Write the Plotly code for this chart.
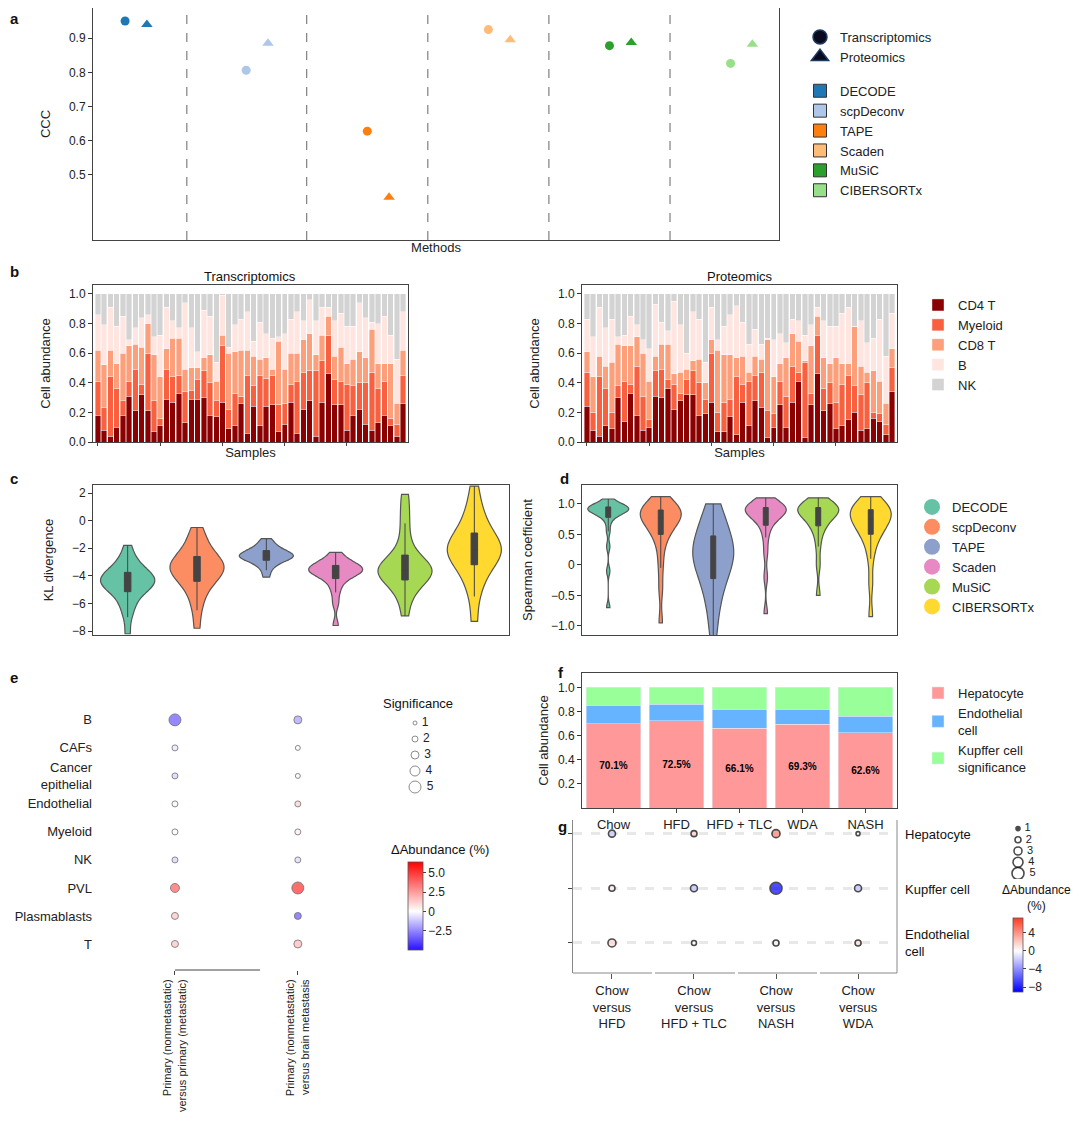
import plotly.graph_objects as go

OFF = 8  # page body margin
W, H = 1080 - OFF, 1129 - OFF
def px(x): return min(1, max(0, (x - OFF) / W))
def py(y): return min(1, max(0, 1 - (y - OFF) / H))
def dx(l, r): return [px(l), px(r)]
def dy(t, b): return [py(b), py(t)]

# ---------- data ----------
methods = ["DECODE", "scpDeconv", "TAPE", "Scaden", "MuSiC", "CIBERSORTx"]
method_colors_a = ["#1f77b4", "#aec7e8", "#ff7f0e", "#ffbb78", "#2ca02c", "#98df8a"]
ccc_trans = [0.950, 0.806, 0.628, 0.925, 0.878, 0.826]
ccc_prot = [0.940, 0.885, 0.435, 0.895, 0.887, 0.882]

cell_types_b = ["CD4 T", "Myeloid", "CD8 T", "B", "NK"]
cell_colors_b = ["#8b0000", "#f9603f", "#fc9f7a", "#fee5e0", "#d3d3d3"]
# cumulative tops per bar (CD4 T, +Myeloid, +CD8 T, +B); NK fills to 1
tr_cd4 = [0.18,0.08,0.04,0.10,0.18,0.31,0.21,0.32,0.21,0.07,0.11,0.29,0.27,0.33,0.13,0.29,0.29,0.30,0.18,0.17,0.27,0.09,0.11,0.26,0.06,0.24,0.11,0.24,0.25,0.07,0.12,0.27,0.06,0.22,0.28,0.04,0.27,0.46,0.25,0.25,0.08,0.18,0.22,0.12,0.08,0.13,0.18,0.11,0.04,0.26]
tr_mye = [0.41,0.23,0.44,0.36,0.28,0.41,0.49,0.39,0.60,0.28,0.16,0.49,0.44,0.45,0.34,0.35,0.42,0.48,0.40,0.28,0.65,0.22,0.33,0.31,0.45,0.38,0.45,0.43,0.45,0.25,0.26,0.39,0.41,0.47,0.48,0.48,0.55,0.72,0.42,0.41,0.39,0.38,0.40,0.40,0.47,0.36,0.41,0.16,0.12,0.45]
tr_cd8 = [0.62,0.52,0.62,0.53,0.60,0.65,0.66,0.64,0.80,0.59,0.44,0.63,0.70,0.70,0.49,0.50,0.50,0.57,0.59,0.41,0.72,0.60,0.61,0.62,0.62,0.58,0.56,0.57,0.49,0.68,0.49,0.60,0.60,0.69,0.73,0.59,0.72,0.85,0.58,0.64,0.53,0.56,0.61,0.57,0.76,0.53,0.53,0.53,0.26,0.62]
tr_b = [0.86,0.79,0.91,0.78,0.85,0.69,0.77,0.84,0.86,0.71,0.72,0.91,0.82,0.77,0.94,0.77,0.61,0.89,0.85,0.54,0.99,0.64,0.79,0.83,0.88,0.68,0.81,0.73,0.70,0.71,0.73,0.83,0.88,0.82,0.96,0.82,0.91,0.91,0.82,0.87,0.78,0.78,0.94,0.84,0.81,0.80,0.85,0.72,0.56,0.88]
pr_cd4 = [0.24,0.08,0.04,0.11,0.09,0.30,0.14,0.33,0.18,0.08,0.10,0.31,0.30,0.36,0.22,0.28,0.32,0.32,0.18,0.19,0.27,0.07,0.07,0.17,0.05,0.27,0.11,0.28,0.23,0.03,0.10,0.25,0.10,0.27,0.41,0.03,0.25,0.46,0.21,0.26,0.09,0.11,0.15,0.20,0.08,0.09,0.16,0.14,0.05,0.34]
pr_mye = [0.47,0.20,0.44,0.36,0.20,0.38,0.41,0.39,0.51,0.31,0.15,0.48,0.49,0.42,0.39,0.33,0.42,0.48,0.40,0.29,0.60,0.20,0.27,0.29,0.44,0.39,0.41,0.45,0.47,0.21,0.19,0.41,0.31,0.51,0.47,0.54,0.33,0.72,0.36,0.40,0.27,0.39,0.45,0.38,0.32,0.40,0.20,0.19,0.12,0.50]
pr_cd8 = [0.61,0.44,0.58,0.51,0.54,0.66,0.65,0.65,0.71,0.60,0.41,0.58,0.66,0.66,0.46,0.47,0.49,0.55,0.56,0.40,0.69,0.62,0.59,0.59,0.57,0.58,0.47,0.58,0.56,0.69,0.44,0.53,0.57,0.73,0.68,0.55,0.65,0.85,0.57,0.53,0.57,0.53,0.53,0.78,0.51,0.47,0.48,0.41,0.26,0.63]
pr_b = [0.83,0.71,0.91,0.77,0.83,0.71,0.72,0.85,0.79,0.69,0.63,0.93,0.81,0.75,0.95,0.79,0.60,0.88,0.83,0.54,0.91,0.69,0.78,0.86,0.92,0.81,0.66,0.76,0.66,0.70,0.69,0.73,0.67,0.83,0.82,0.72,0.79,0.91,0.82,0.78,0.78,0.87,0.91,0.78,0.82,0.67,0.70,0.83,0.58,0.87]

violin_colors = ["#66c2a5", "#fc8d62", "#8da0cb", "#e78ac3", "#a6d854", "#ffd92f"]
kl_values = [
    [-8.2,-7.0,-6.4,-6.0,-5.6,-5.3,-5.1,-5.0,-4.8,-4.7,-4.6,-4.5,-4.4,-4.3,-4.2,-4.1,-4.0,-3.9,-3.8,-3.6,-3.4,-3.2,-2.9,-2.5,-1.8],
    [-7.8,-6.5,-5.8,-5.2,-4.8,-4.5,-4.3,-4.1,-3.9,-3.7,-3.6,-3.5,-3.4,-3.3,-3.1,-3.0,-2.9,-2.7,-2.5,-2.2,-1.9,-1.5,-1.0,-0.5],
    [-4.1,-3.6,-3.3,-3.1,-2.95,-2.85,-2.75,-2.7,-2.65,-2.6,-2.55,-2.5,-2.45,-2.4,-2.3,-2.2,-2.1,-2.0,-1.8,-1.6,-1.3],
    [-7.6,-6.0,-5.2,-4.7,-4.3,-4.1,-3.95,-3.8,-3.7,-3.65,-3.6,-3.55,-3.5,-3.4,-3.3,-3.2,-3.1,-2.9,-2.7,-2.3],
    [-6.9,-5.8,-5.2,-4.8,-4.5,-4.3,-4.1,-3.9,-3.8,-3.7,-3.6,-3.5,-3.4,-3.2,-3.0,-2.8,-2.5,-2.0,-1.2,-0.2,0.8,1.9],
    [-7.3,-5.5,-4.6,-4.0,-3.5,-3.1,-2.9,-2.6,-2.4,-2.2,-2.1,-2.0,-1.8,-1.5,-1.2,-1.0,-0.6,-0.1,0.5,1.2,2.5],
]
sp_values = [
    [-0.7,-0.1,0.3,0.55,0.7,0.78,0.82,0.85,0.87,0.88,0.89,0.9,0.91,0.92,0.93,0.94,0.95,0.96,0.97,0.99,1.02,1.08],
    [-0.95,-0.4,-0.05,0.2,0.4,0.5,0.55,0.62,0.68,0.72,0.76,0.78,0.8,0.83,0.86,0.88,0.9,0.92,0.95,0.98,1.03,1.12],
    [-1.2,-0.85,-0.6,-0.45,-0.3,-0.2,-0.1,0.0,0.08,0.12,0.15,0.2,0.25,0.3,0.38,0.45,0.55,0.65,0.75,0.85,1.0],
    [-0.8,-0.2,0.2,0.45,0.6,0.7,0.75,0.8,0.84,0.86,0.88,0.9,0.91,0.92,0.93,0.95,0.96,0.98,1.02,1.1],
    [-0.5,0.0,0.3,0.5,0.6,0.68,0.72,0.77,0.82,0.85,0.88,0.9,0.91,0.92,0.93,0.95,0.96,0.98,1.02,1.1],
    [-0.85,-0.3,0.1,0.3,0.45,0.52,0.55,0.62,0.68,0.72,0.75,0.78,0.82,0.86,0.88,0.9,0.92,0.95,0.99,1.04,1.12],
]

e_cells = ["B", "CAFs", "Cancer<br>epithelial", "Endothelial", "Myeloid", "NK", "PVL", "Plasmablasts", "T"]
e_comparisons = ["Primary (nonmetastatic)<br>versus primary (metastatic)", "Primary (nonmetastatic)<br>versus brain metastasis"]
e_delta_1 = [-3.5, -0.5, -1.0, 0.3, 0.2, -0.9, 4.0, 1.5, 1.5]
e_sig_1 = [5, 2, 2, 2, 2, 2, 3.5, 2.5, 2.5]
e_delta_2 = [-2.0, 0.2, 0.3, 1.2, 0.5, -0.8, 5.2, -3.5, 1.8]
e_sig_2 = [3, 1.5, 1.5, 2, 2, 2, 5, 2.5, 3]

f_groups = ["Chow", "HFD", "HFD + TLC", "WDA", "NASH"]
f_hep = [0.701, 0.725, 0.661, 0.693, 0.626]
f_endo = [0.150, 0.135, 0.160, 0.125, 0.134]
f_kup = [0.149, 0.140, 0.179, 0.182, 0.240]
f_labels = ["70.1%", "72.5%", "66.1%", "69.3%", "62.6%"]

g_comparisons = ["Chow<br>versus<br>HFD", "Chow<br>versus<br>HFD + TLC", "Chow<br>versus<br>NASH", "Chow<br>versus<br>WDA"]
g_cells = ["Hepatocyte", "Kupffer cell", "Endothelial cell"]
g_delta = {"Hepatocyte": [-2.0, 2.0, 4.5, -0.3], "Kupffer cell": [0.5, -2.5, -9.0, -2.5], "Endothelial cell": [1.5, 0.0, 0.5, 1.5]}
g_sig = {"Hepatocyte": [2.5, 2, 3, 1], "Kupffer cell": [2, 2.5, 5, 2.5], "Endothelial cell": [3, 1.5, 2, 2]}

sig_levels = [1, 2, 3, 4, 5]

def msize(s): return 2 + 2 * s

FONT = "Liberation Sans, Arial, sans-serif"
fig = go.Figure()

# ---------- a ----------
for i, m in enumerate(methods):
    fig.add_trace(go.Scatter(x=[i - 0.09], y=[ccc_trans[i]], mode="markers", showlegend=False,
                             marker=dict(symbol="circle", size=9, color=method_colors_a[i]), xaxis="x", yaxis="y"))
    fig.add_trace(go.Scatter(x=[i + 0.09], y=[ccc_prot[i]], mode="markers", showlegend=False,
                             marker=dict(symbol="triangle-up", size=10, color=method_colors_a[i]), xaxis="x", yaxis="y"))
fig.add_trace(go.Scatter(x=[None], y=[None], mode="markers", name="Transcriptomics", legend="legend", legendgroup="s",
                         marker=dict(symbol="circle", size=14, color="#0a0a1e", line=dict(color="#1f3a5f", width=1.5))))
fig.add_trace(go.Scatter(x=[None], y=[None], mode="markers", name="Proteomics", legend="legend", legendgroup="s",
                         marker=dict(symbol="triangle-up", size=15, color="#0a0a1e", line=dict(color="#1f3a5f", width=1.5))))
for i, m in enumerate(methods):
    fig.add_trace(go.Scatter(x=[None], y=[None], mode="markers", name=m, legend="legend", legendgroup="m",
                             marker=dict(symbol="square", size=13, color=method_colors_a[i], line=dict(color="#333", width=1))))

# ---------- b ----------
def stacks(c1, c2, c3, c4):
    return [c1, [b - a for a, b in zip(c1, c2)], [b - a for a, b in zip(c2, c3)],
            [b - a for a, b in zip(c3, c4)], [1 - a for a in c4]]
for ax, data, show in [("2", stacks(tr_cd4, tr_mye, tr_cd8, tr_b), True), ("3", stacks(pr_cd4, pr_mye, pr_cd8, pr_b), False)]:
    for k, ct in enumerate(cell_types_b):
        fig.add_trace(go.Bar(x=list(range(len(data[k]))), y=data[k], name=ct, marker=dict(color=cell_colors_b[k], line=dict(color="white", width=0.4)),
                             xaxis="x" + ax, yaxis="y" + ax, showlegend=show, legend="legend2"))

# ---------- c, d ----------
for ax, vals in [("4", kl_values), ("5", sp_values)]:
    for i, m in enumerate(methods):
        fig.add_trace(go.Violin(x=[i] * len(vals[i]), y=vals[i], name=m, fillcolor=violin_colors[i], opacity=1,
                                line=dict(color="#555555", width=1.2), width=0.78, points=False, spanmode="hard",
                                box=dict(visible=True, width=0.12, fillcolor="#444444", line=dict(color="#444444", width=1)),
                                meanline=dict(visible=False), xaxis="x" + ax, yaxis="y" + ax, showlegend=False))
fig.update_layout(violinmode="overlay")
for i, m in enumerate(methods):
    fig.add_trace(go.Scatter(x=[None], y=[None], mode="markers", name=m, legend="legend3",
                             marker=dict(symbol="circle", size=17, color=violin_colors[i], line=dict(color="white", width=0))))

# ---------- e ----------
for j, (dv, sv) in enumerate([(e_delta_1, e_sig_1), (e_delta_2, e_sig_2)]):
    fig.add_trace(go.Scatter(x=[j] * len(e_cells), y=list(range(len(e_cells))), mode="markers", showlegend=False,
                             marker=dict(size=[msize(s) for s in sv], color=dv, coloraxis="coloraxis",
                                         line=dict(color="#333", width=0.8)), xaxis="x6", yaxis="y6"))
fig.add_trace(go.Scatter(x=[0] * 5, y=sig_levels, mode="markers+text", text=[" " + str(s) for s in sig_levels], textposition="middle right",
                         textfont=dict(size=12), showlegend=False, hoverinfo="skip",
                         marker=dict(size=[msize(s) for s in sig_levels], color="white", line=dict(color="#333", width=0.8)),
                         xaxis="x9", yaxis="y9"))

# ---------- f ----------
f_colors = ["#ff9999", "#66b3ff", "#99ff99"]
f_names = ["Hepatocyte", "Endothelial<br>cell", "Kupffer cell<br>significance"]
for k, (vals, nm) in enumerate(zip([f_hep, f_endo, f_kup], f_names)):
    fig.add_trace(go.Bar(x=f_groups, y=vals, name=nm, marker=dict(color=f_colors[k]), width=0.87,
                         text=f_labels if k == 0 else None, textposition="inside" if k == 0 else None,
                         insidetextanchor="middle", textfont=dict(size=10, color="black", family=FONT),
                         texttemplate="<b>%{text}</b>" if k == 0 else None,
                         xaxis="x7", yaxis="y7", legend="legend5"))

# ---------- g ----------
for r, c in enumerate(g_cells):
    fig.add_trace(go.Scatter(x=list(range(4)), y=[r] * 4, mode="markers", showlegend=False,
                             marker=dict(size=[msize(s) for s in g_sig[c]], color=g_delta[c], coloraxis="coloraxis2",
                                         line=dict(color="black", width=1.6)), xaxis="x8", yaxis="y8"))
fig.add_trace(go.Scatter(x=[0] * 5, y=sig_levels, mode="markers+text", text=[" " + str(s) for s in sig_levels], textposition="middle right",
                         textfont=dict(size=11), showlegend=False, hoverinfo="skip",
                         marker=dict(size=[msize(s) for s in sig_levels], color=["black", "white", "white", "white", "white"],
                                     line=dict(color="black", width=1.6)),
                         xaxis="x10", yaxis="y10"))

# ---------- layout ----------
tick = dict(ticks="outside", ticklen=4, tickcolor="#333", tickfont=dict(size=12, color="#222"))
box = dict(showline=True, linecolor="#444", linewidth=1, mirror=True, zeroline=False, showgrid=False)
hidden = dict(visible=False, showgrid=False, zeroline=False, fixedrange=True)
lay = dict(
    width=W, height=H, margin=dict(l=0, r=0, t=0, b=0, autoexpand=False), plot_bgcolor="white", paper_bgcolor="white",
    font=dict(family=FONT, size=12, color="#222"), barmode="stack", bargap=0.12,
    xaxis=dict(domain=dx(93, 779), range=[-0.355, 5.31], showticklabels=False, ticks="", **box,
               title=dict(text="Methods", font=dict(size=13), standoff=2)),
    yaxis=dict(domain=dy(8, 240), range=[0.31, 0.988], tickvals=[0.5, 0.6, 0.7, 0.8, 0.9], title=dict(text="CCC", font=dict(size=13)), **box, **tick),
    xaxis2=dict(domain=dx(93, 408), range=[-0.8, 49.8], dtick=10, showticklabels=False, ticks="outside", ticklen=3, **box,
                title=dict(text="Samples", font=dict(size=13), standoff=2), anchor="y2"),
    yaxis2=dict(domain=dy(285, 442), range=[0, 1.06], dtick=0.2, tickformat=".1f", anchor="x2", **box, **tick,
                title=dict(text="Cell abundance", font=dict(size=13))),
    xaxis3=dict(domain=dx(582, 897), range=[-0.8, 49.8], dtick=10, showticklabels=False, ticks="outside", ticklen=3, **box,
                title=dict(text="Samples", font=dict(size=13), standoff=2), anchor="y3"),
    yaxis3=dict(domain=dy(285, 442), range=[0, 1.06], dtick=0.2, tickformat=".1f", anchor="x3", **box, **tick,
                title=dict(text="Cell abundance", font=dict(size=13))),
    xaxis4=dict(domain=dx(93, 509), range=[-0.5, 5.5], showticklabels=False, ticks="", anchor="y4", **box),
    yaxis4=dict(domain=dy(485, 635), range=[-8.29, 2.58], tickvals=[2, 0, -2, -4, -6, -8], ticktext=["2", "0", "−2", "−4", "−6", "−8"],
                anchor="x4", **box, **tick, title=dict(text="KL divergence", font=dict(size=13))),
    xaxis5=dict(domain=dx(582, 897), range=[-0.5, 5.5], showticklabels=False, ticks="", anchor="y5", **box),
    yaxis5=dict(domain=dy(485, 635), range=[-1.15, 1.31], tickvals=[1, 0.5, 0, -0.5, -1], ticktext=["1.0", "0.5", "0", "−0.5", "−1.0"],
                anchor="x5", **box, **tick, title=dict(text="Spearman coefficient", font=dict(size=13))),
    xaxis6=dict(domain=dx(93, 390), range=[-0.667, 1.75], tickvals=[0, 1], ticktext=e_comparisons, tickangle=-90,
                showline=False, showgrid=False, zeroline=False, ticks="outside", ticklen=4, anchor="y6", tickfont=dict(size=11)),
    yaxis6=dict(domain=dy(665, 970), range=[8.93, -1.96], tickvals=list(range(9)), ticktext=e_cells, showline=False,
                showgrid=False, zeroline=False, ticks="", anchor="x6", tickfont=dict(size=13)),
    xaxis7=dict(domain=dx(582, 897), anchor="y7", **box, ticks="outside", ticklen=4, tickfont=dict(size=13)),
    yaxis7=dict(domain=dy(673, 808), range=[0, 1.12], tickformat=".1f", tickvals=[0.2, 0.4, 0.6, 0.8, 1.0], anchor="x7", **box, **tick,
                title=dict(text="Cell abundance", font=dict(size=13), standoff=6)),
    xaxis8=dict(domain=dx(573, 897), range=[-0.475, 3.475], tickvals=[0, 1, 2, 3], ticktext=g_comparisons, showline=False,
                showgrid=False, zeroline=False, ticks="outside", ticklen=5, tickcolor="#555", anchor="y8", tickfont=dict(size=13)),
    yaxis8=dict(domain=dy(820, 973), range=[2.55, -0.25], tickvals=[0, 1, 2], showticklabels=False, showline=True, linecolor="#888",
                ticks="outside", ticklen=4, showgrid=True, gridcolor="#e8e8e8", gridwidth=3, griddash="dash", zeroline=False, anchor="x8"),
    xaxis9=dict(domain=dx(405, 445), range=[-1, 3], anchor="y9", **hidden),
    yaxis9=dict(domain=dy(715, 795), range=[5.5, 0.5], anchor="x9", **hidden),
    xaxis10=dict(domain=dx(1008, 1048), range=[-1, 3], anchor="y10", **hidden),
    yaxis10=dict(domain=dy(823, 879), range=[5.5, 0.5], anchor="x10", **hidden),
    coloraxis=dict(cmin=-5.0, cmax=6.4, colorscale=[[0, "#2a10ff"], [0.44, "#ffffff"], [1, "#ff0000"]],
                   colorbar=dict(x=px(408), xanchor="left", y=py(862), yanchor="top", len=88 / H, lenmode="fraction", thickness=15,
                                 xpad=0, ypad=0,
                                 tickvals=[5, 2.5, 0, -2.5], ticktext=["5.0", "2.5", "0", "−2.5"], outlinewidth=0.8, outlinecolor="#555",
                                 ticks="outside", ticklen=3, tickfont=dict(size=12), title=dict(text=""))),
    coloraxis2=dict(cmin=-9.1, cmax=7.3, colorscale=[[0, "#0000ff"], [0.555, "#ffffff"], [1, "#ff3b1f"]],
                    colorbar=dict(x=px(1013), xanchor="left", y=py(918), yanchor="top", len=74 / H, lenmode="fraction", thickness=10,
                                  xpad=0, ypad=0,
                                  tickvals=[4, 0, -4, -8], ticktext=["4", "0", "−4", "−8"], outlinewidth=0.8, outlinecolor="#555",
                                  ticks="outside", ticklen=3, tickfont=dict(size=12), title=dict(text=""))),
    legend=dict(x=px(800), y=py(22), xanchor="left", yanchor="top", font=dict(size=13), tracegroupgap=14, traceorder="grouped", bgcolor="rgba(0,0,0,0)"),
    legend2=dict(x=px(918), y=py(290), xanchor="left", yanchor="top", font=dict(size=13), bgcolor="rgba(0,0,0,0)", traceorder="normal"),
    legend3=dict(x=px(912), y=py(492), xanchor="left", yanchor="top", font=dict(size=13), bgcolor="rgba(0,0,0,0)", tracegroupgap=6),
    legend5=dict(x=px(918), y=py(678), xanchor="left", yanchor="top", font=dict(size=13), bgcolor="rgba(0,0,0,0)", traceorder="normal"),
)
fig.update_layout(**lay)

shapes = []
for d in [0.42, 1.41, 2.41, 3.41, 4.41]:
    shapes.append(dict(type="line", xref="x", yref="paper", x0=d, x1=d, y0=py(240), y1=py(8), line=dict(color="#666", width=1, dash="dash")))
for l, r in [(573, 652), (655, 735), (738, 817), (820, 897)]:
    shapes.append(dict(type="line", xref="paper", yref="paper", x0=px(l), x1=px(r), y0=py(973), y1=py(973), line=dict(color="#888", width=1)))
shapes.append(dict(type="line", xref="paper", yref="paper", x0=px(897), x1=px(897), y0=py(973), y1=py(820), line=dict(color="#888", width=1)))
shapes.append(dict(type="line", xref="paper", yref="paper", x0=px(175), x1=px(260), y0=py(970), y1=py(970), line=dict(color="#444", width=1)))
fig.update_layout(shapes=shapes)

ann = []
def A(text, x, y, size=13, xanchor="center", align="center"):
    ann.append(dict(text=text, x=px(x), y=py(y), xref="paper", yref="paper", xanchor=xanchor, yanchor="middle", align=align,
                    showarrow=False, font=dict(size=size, color="#111")))
for t, x, y in [("a", 8, 18), ("b", 8, 272), ("c", 8, 478), ("d", 558, 478), ("e", 8, 677), ("f", 556, 672), ("g", 556, 826)]:
    A("<b>%s</b>" % t, x, y, size=15, xanchor="left")
A("Transcriptomics", 250, 276)
A("Proteomics", 740, 276)
for c, y in zip(["Hepatocyte", "Kupffer cell", "Endothelial<br>cell"], [834, 889, 943]):
    A(c, 903, y, xanchor="left", align="left")
A("ΔAbundance<br>(%)", 1036, 898, size=12)
A("ΔAbundance (%)", 440, 849)
A("Significance", 418, 704)
fig.update_layout(annotations=ann)

fig.write_html("out.html")
